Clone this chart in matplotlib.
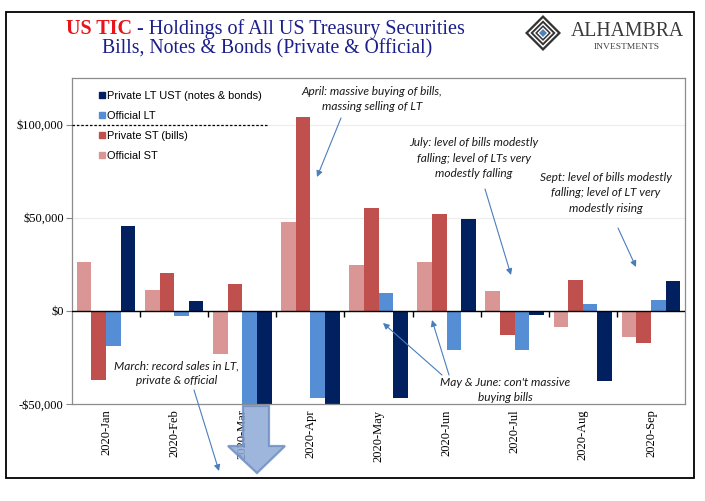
import matplotlib.pyplot as plt
from matplotlib.lines import Line2D
from matplotlib.patches import Polygon, Rectangle
from matplotlib.ticker import FuncFormatter
import matplotlib.markers as mmarkers

# Data (USD millions)
months = ["2020-Jan", "2020-Feb", "2020-Mar", "2020-Apr", "2020-May",
          "2020-Jun", "2020-Jul", "2020-Aug", "2020-Sep"]
official_st = [26300, 11300, -22900, 47800, 24700, 26300, 10800, -8600, -14000]
private_st = [-37100, 20400, 14500, 104300, 55400, 52100, -12700, 16700, -17200]
official_lt = [-18600, -2500, -109000, -46800, 9700, -21000, -21000, 3800, 5900]
private_lt = [45700, 5400, -59000, -52000, -46800, 49500, -2000, -37500, 16100]

series = [
    ("Official ST", official_st, "#D99694"),
    ("Private ST (bills)", private_st, "#C0504D"),
    ("Official LT", official_lt, "#558ED5"),
    ("Private LT UST (notes & bonds)", private_lt, "#002060"),
]

W, H = 705, 501
serif = "Liberation Serif"
narrow = ["Liberation Sans Narrow", "Liberation Sans", "DejaVu Sans"]
italic_font = ["Lato", "DejaVu Sans"]


def px(x, y):
    # pixel position from top-left -> figure pixels
    return (x, H - y)


fig = plt.figure(figsize=(W / 100, H / 100), dpi=100)
ax = fig.add_axes([72 / W, (H - 404) / H, (685 - 72) / W, (404 - 78) / H])

bw = 0.215
xs = list(range(len(months)))
for k, (name, vals, col) in enumerate(series):
    off = (k - 1.5) * bw
    ax.bar([x + off for x in xs], vals, width=bw, color=col, label=name, zorder=2)

ax.set_xlim(-0.5, len(months) - 0.5)
ax.set_ylim(-50000, 125000)
ax.set_yticks([-50000, 0, 50000, 100000])
ax.yaxis.set_major_formatter(FuncFormatter(
    lambda v, p: ("-$" if v < 0 else "$") + f"{abs(int(v)):,}"))
for y in [50000, 100000]:
    ax.axhline(y, color="#ececec", lw=0.8, zorder=0)
ax.axhline(100000, xmin=0, xmax=(268 - 72) / (685 - 72), color="black",
           lw=0.9, ls=(0, (2, 1.5)), zorder=3)

# zero line with tick marks at category boundaries
ax.axhline(0, color="black", lw=1.0, zorder=3)
bounds = [i + 0.5 for i in range(len(months) - 1)]
ax.plot(bounds, [0] * len(bounds), ls="none", marker=mmarkers.TICKDOWN,
        markersize=4, color="black", mew=1.0, zorder=3)

ax.set_xticks(xs)
ax.set_xticklabels(months, rotation=90, fontfamily=serif, fontsize=9)
ax.tick_params(axis="x", length=0, pad=4)
ax.tick_params(axis="y", length=4, color="#888888", pad=2)
for lab in ax.get_yticklabels():
    lab.set_fontfamily(serif)
    lab.set_fontsize(9)
for s in ax.spines.values():
    s.set_color("#8c8c8c")
    s.set_linewidth(0.9)

# legend
handles = [Line2D([], [], ls="none", marker="s", markersize=4, color=c)
           for _, _, c in series[::-1]]
labels = [n for n, _, _ in series[::-1]]
ax.legend(handles, labels, loc="upper left", bbox_to_anchor=(0.03, 0.99),
          frameon=False, handlelength=0.4, handletextpad=0.25,
          labelspacing=0.9, prop={"family": narrow, "size": 7.9})

# annotations
arrow = dict(arrowstyle="-|>", color="#4a7ebb", lw=0.8, mutation_scale=9,
             shrinkA=0, shrinkB=0)
tkw = dict(xycoords="figure pixels", textcoords="figure pixels",
           ha="center", va="center", fontsize=8.6, style="italic",
           family=italic_font, color="#1a1a1a", linespacing=1.45)

ax.annotate("April: massive buying of bills,\nmassing selling of LT",
            xy=px(317, 177), xytext=px(372, 99), arrowprops=None, **tkw)
ax.annotate("", xy=px(317, 177), xytext=px(341, 118),
            xycoords="figure pixels", textcoords="figure pixels", arrowprops=arrow)

ax.annotate("July: level of bills modestly\nfalling; level of LTs very\nmodestly falling",
            xy=px(0, 0), xytext=px(474, 158), **tkw)
ax.annotate("", xy=px(511, 275), xytext=px(485, 189),
            xycoords="figure pixels", textcoords="figure pixels", arrowprops=arrow)

ax.annotate("Sept: level of bills modestly\nfalling; level of LT very\nmodestly rising",
            xy=px(0, 0), xytext=px(606, 193), **tkw)
ax.annotate("", xy=px(636, 267), xytext=px(618, 228),
            xycoords="figure pixels", textcoords="figure pixels", arrowprops=arrow)

ax.annotate("May & June: con't massive\nbuying bills",
            xy=px(0, 0), xytext=px(505, 390), **tkw)
ax.annotate("", xy=px(383, 323), xytext=px(442, 375),
            xycoords="figure pixels", textcoords="figure pixels", arrowprops=arrow)
ax.annotate("", xy=px(432, 320), xytext=px(449, 375),
            xycoords="figure pixels", textcoords="figure pixels", arrowprops=arrow)

ax.annotate("March: record sales in LT,\nprivate & official",
            xy=px(0, 0), xytext=px(177, 373), **tkw)
ax.annotate("", xy=px(219, 471), xytext=px(194, 390),
            xycoords="figure pixels", textcoords="figure pixels", arrowprops=arrow)

# big block arrow under March
blk = [(243, 406), (269, 406), (269, 446), (285, 446), (257, 473),
       (228, 446), (243, 446)]
fig.patches.append(Polygon([(x / W, 1 - y / H) for x, y in blk], closed=True,
                           transform=fig.transFigure, facecolor="#8eaad6",
                           edgecolor="#6f8fc2", lw=1.6, alpha=0.85, zorder=5))

# outer border
fig.patches.append(Rectangle((6 / W, 1 - 478 / H), (694 - 6) / W, (478 - 12) / H,
                             transform=fig.transFigure, fill=False,
                             edgecolor="black", lw=1.3))

# title
t1 = fig.text(66 / W, 1 - 29 / H, "US TIC", color="#E8141C", fontsize=14.5,
              fontweight="bold", family=serif, va="center", ha="left")
fig.canvas.draw()
bb = t1.get_window_extent()
fig.text(bb.x1 / W, 1 - 29 / H, " - Holdings of All US Treasury Securities",
         color="#1B1F8A", fontsize=14.5, family=serif, va="center", ha="left")
fig.text(267 / W, 1 - 49 / H, "Bills, Notes & Bonds (Private & Official)",
         color="#1B1F8A", fontsize=14.2, family=serif, va="center", ha="center")

# logo
cx, cy, r = 543, 33, 18
for rr, col in [(r, "#333333"), (r * 0.82, "white"), (r * 0.7, "#333333"),
                (r * 0.55, "white"), (r * 0.44, "#333333"),
                (r * 0.32, "white"), (r * 0.22, "#4f81bd")]:
    pts = [(cx, cy - rr), (cx + rr, cy), (cx, cy + rr), (cx - rr, cy)]
    fig.patches.append(Polygon([(x / W, 1 - y / H) for x, y in pts],
                               closed=True, transform=fig.transFigure,
                               facecolor=col, edgecolor="none"))
fig.text(627 / W, 1 - 32 / H, "ALHAMBRA", color="#3a3a3a", fontsize=14.2,
         family=serif, ha="center", va="center")
fig.text(627 / W, 1 - 47 / H, "INVESTMENTS", color="#444444", fontsize=6.8,
         family=serif, ha="center", va="center")

fig.savefig("out.png", dpi=100)
